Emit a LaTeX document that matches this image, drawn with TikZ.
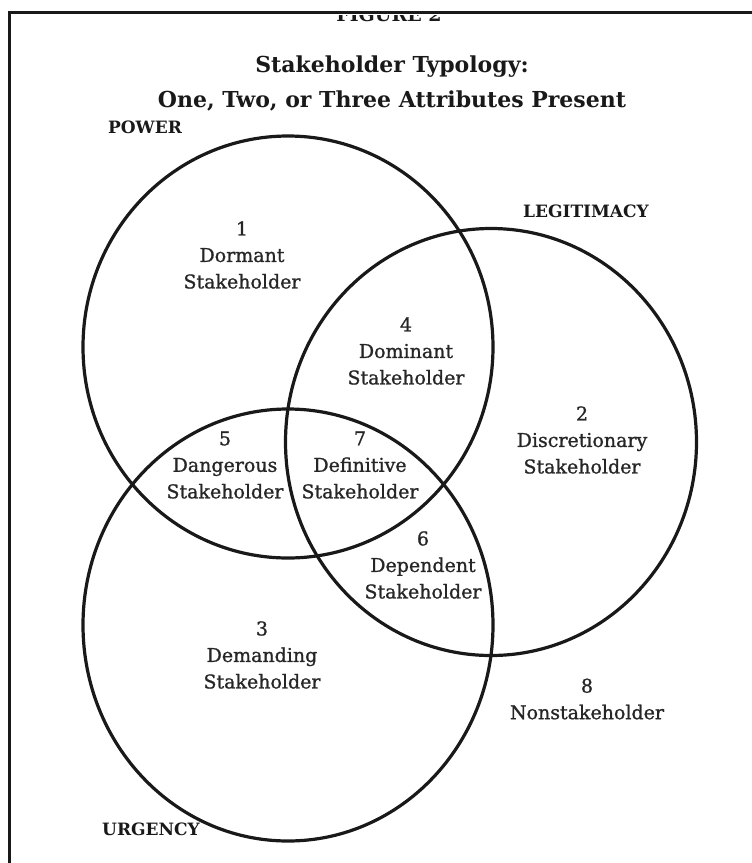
\documentclass[tikz,border=0pt]{standalone}
\usepackage{fontspec}
\setmainfont{DejaVu Serif}
\newfontfamily\regionfont[FakeBold=1]{DejaVu Serif}
\usetikzlibrary{shapes.geometric}
\begin{document}
\begin{tikzpicture}[x=1pt,y=-1pt,
  ring/.style={draw=black!90,line width=3.2pt,ellipse,inner sep=0pt,outer sep=0pt},
  frame/.style={draw=black!90,line width=3pt},
  region/.style={align=center,text=black!85,font=\regionfont\fontsize{19}{26.5}\selectfont,inner sep=0pt},
  attr/.style={text=black!90,font=\bfseries\fontsize{17}{20}\selectfont,inner sep=0pt},
  ttl/.style={text=black!90,font=\bfseries\fontsize{22}{26}\selectfont,inner sep=0pt},
  figttl/.style={text=black!90,font=\bfseries\fontsize{19}{22}\selectfont,inner sep=0pt}]
\useasboundingbox (0,0) rectangle (752,863);
\fill[white] (0,0) rectangle (752,863);
% clipped remnant of the figure number under the top edge
\begin{scope}
\clip (300,15) rectangle (480,23);
\node[figttl,anchor=base] (fig) at (389,21) {FIGURE 2};
\end{scope}
% frame
\coordinate (fa) at (9,863);
\coordinate (fb) at (9,12);
\coordinate (fc) at (752,12);
\draw[frame] (fa) -- (fb) -- (fc);
% title
\node[ttl] (t1) at (392,67) {Stakeholder Typology:};
\node[ttl] (t2) at (392,101) {One, Two, or Three Attributes Present};
% circles
\node[ring,minimum width=410pt,minimum height=422pt] (power) at (288,347) {};
\node[ring,minimum width=411pt,minimum height=427pt] (legit) at (491,442) {};
\node[ring,minimum width=410pt,minimum height=432pt] (urg) at (288,625) {};
% attribute labels
\node[attr] (lp) at (145,127) {POWER};
\node[attr] (ll) at (586,211) {LEGITIMACY};
\node[attr] (lu) at (151,829) {URGENCY};
% regions
\node[region] (r1) at (242,255) {1\\Dormant\\Stakeholder};
\node[region] (r4) at (406,351) {4\\Dominant\\Stakeholder};
\node[region] (r2) at (582,440) {2\\Discretionary\\Stakeholder};
\node[region] (r5) at (225,465) {5\\Dangerous\\Stakeholder};
\node[region] (r7) at (360,465) {7\\Definitive\\Stakeholder};
\node[region] (r6) at (423,565) {6\\Dependent\\Stakeholder};
\node[region] (r3) at (262,655) {3\\Demanding\\Stakeholder};
\node[region] (r8) at (587,699) {8\\Nonstakeholder};
\end{tikzpicture}
\end{document}
